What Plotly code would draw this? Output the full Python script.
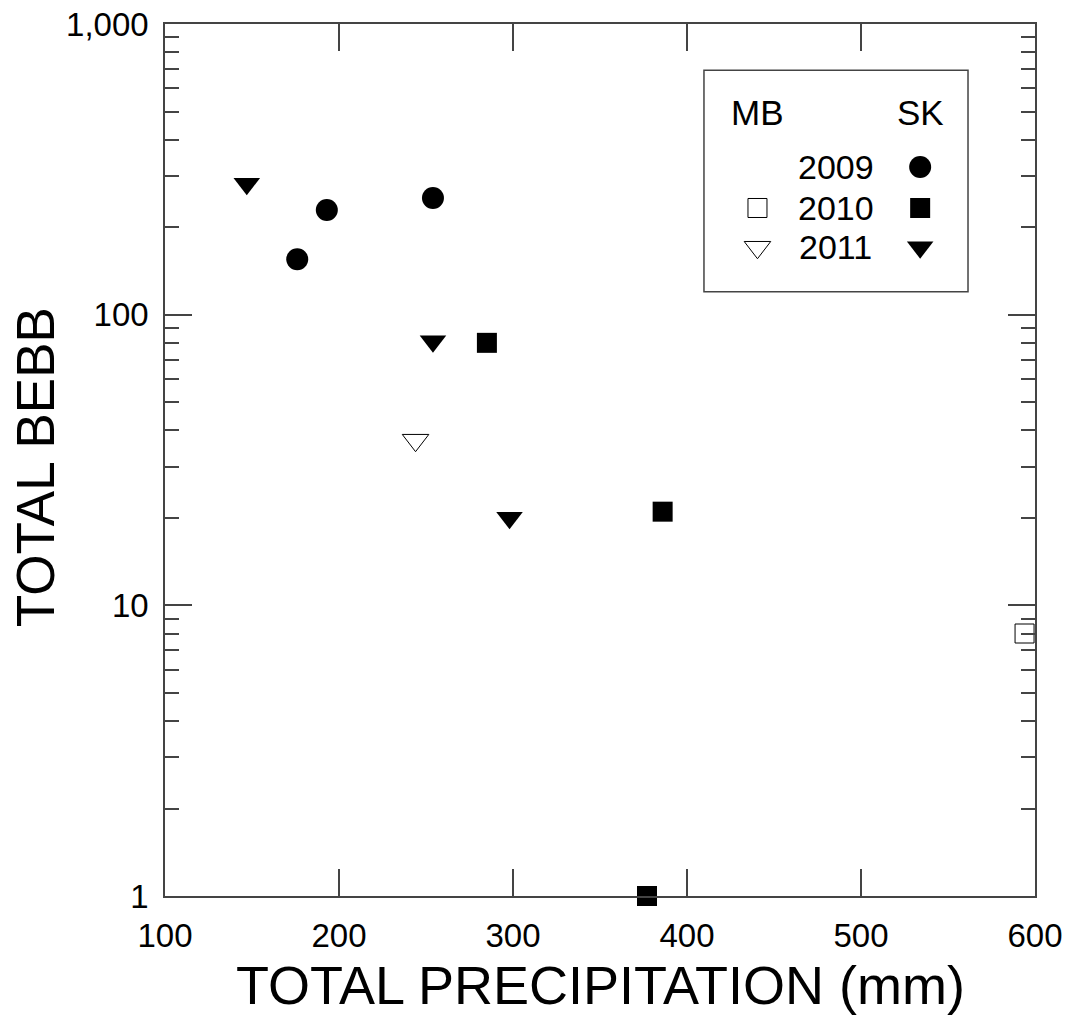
import plotly.graph_objects as go

# ---- data ----
sk2009_x = [176, 193, 254]
sk2009_y = [155, 229, 252]
sk2010_x = [285, 386, 377]
sk2010_y = [80, 21, 1]
sk2011_x = [147, 254, 298]
sk2011_y = [282, 81, 20]
mb2010_x = [594]
mb2010_y = [8]
mb2011_x = [244]
mb2011_y = [37]

x_ticks = [100, 200, 300, 400, 500, 600]
y_ticks = [1, 10, 100, 1000]
y_ticktext = ["1", "10", "100", "1,000"]

legend_years = ["2009", "2010", "2011"]
legend_groups = ["MB", "SK"]

FONT = "Liberation Sans, Arial, sans-serif"
AX = "#444444"

fig = go.Figure()

def add(x, y, sym, filled, size, name):
    fig.add_trace(go.Scatter(
        x=x, y=y, mode="markers", name=name, showlegend=False,
        marker=dict(symbol=sym, size=size,
                    color="black" if filled else "white",
                    line=dict(color="black", width=1 if not filled else 0)),
        cliponaxis=False))

add(sk2009_x, sk2009_y, "circle", True, 22, "SK 2009")
add(sk2010_x, sk2010_y, "square", True, 20, "SK 2010")
add(sk2011_x, sk2011_y, "triangle-down", True, 23, "SK 2011")
add(mb2010_x, mb2010_y, "square", False, 19, "MB 2010")
add(mb2011_x, mb2011_y, "triangle-down", False, 23, "MB 2011")

# ---- custom legend on overlay axes (0..1 == plot area) ----
leg_x_mb = 0.681
leg_x_sk = 0.868
leg_x_year = 0.771
leg_y_head = 0.898
leg_rows = dict(zip(legend_years, [0.836, 0.789, 0.744]))

def legm(x, y, sym, filled, size):
    fig.add_trace(go.Scatter(
        x=[x], y=[y], xaxis="x2", yaxis="y2", mode="markers", showlegend=False,
        hoverinfo="skip", cliponaxis=False,
        marker=dict(symbol=sym, size=size,
                    color="black" if filled else "white",
                    line=dict(color="black", width=1 if not filled else 0))))

legm(leg_x_sk, leg_rows["2009"], "circle", True, 22)
legm(leg_x_sk, leg_rows["2010"], "square", True, 20)
legm(leg_x_sk, leg_rows["2011"], "triangle-down", True, 23)
legm(leg_x_mb, leg_rows["2010"], "square", False, 19)
legm(leg_x_mb, leg_rows["2011"], "triangle-down", False, 23)

def txt(x, y, s, size=34, angle=0):
    return dict(x=x, y=y, xref="paper", yref="paper", text=s, showarrow=False,
                xanchor="center", yanchor="middle", textangle=angle,
                font=dict(size=size, family=FONT, color="black"))

annotations = [txt(leg_x_mb, leg_y_head, legend_groups[0], size=35),
               txt(leg_x_sk, leg_y_head, legend_groups[1], size=35)]
for k, v in leg_rows.items():
    annotations.append(txt(leg_x_year, v, k, size=34))
annotations.append(txt(0.5, -0.102, "TOTAL PRECIPITATION (mm)", size=54))
annotations.append(txt(-0.148, 0.492, "TOTAL BEBB", size=53, angle=-90))

fig.update_layout(
    width=1071, height=1017,
    margin=dict(l=165, r=36, t=24, b=121, autoexpand=False),
    paper_bgcolor="white", plot_bgcolor="white",
    showlegend=False,
    font=dict(family=FONT, color="black"),
    xaxis=dict(range=[100, 600], tickvals=x_ticks, ticks="inside", ticklen=27,
               tickwidth=1.5, tickcolor=AX, showline=True, linecolor=AX, linewidth=1.5,
               mirror="ticks", showgrid=False, zeroline=False, automargin=False,
               tickfont=dict(size=33, family=FONT, color="black"),
               ticklabelstandoff=10),
    yaxis=dict(type="log", range=[0, 3], tickvals=y_ticks, ticktext=y_ticktext,
               ticks="inside", ticklen=27, tickwidth=1.5, tickcolor=AX,
               showline=True, linecolor=AX, linewidth=1.5, mirror="ticks",
               showgrid=False, zeroline=False, automargin=False,
               tickfont=dict(size=33, family=FONT, color="black"),
               ticklabelstandoff=8,
               minor=dict(ticks="inside", ticklen=14, tickwidth=1.5, tickcolor=AX,
                          dtick="D1", showgrid=False)),
    xaxis2=dict(range=[0, 1], overlaying="x", visible=False, fixedrange=True,
                automargin=False),
    yaxis2=dict(range=[0, 1], overlaying="y", visible=False, fixedrange=True,
                automargin=False),
    shapes=[dict(type="rect", xref="paper", yref="paper", x0=0.6195, x1=0.923,
                 y0=0.693, y1=0.947, line=dict(color=AX, width=1.5),
                 fillcolor="rgba(0,0,0,0)")],
    annotations=annotations,
)

fig.write_html("out.html")
